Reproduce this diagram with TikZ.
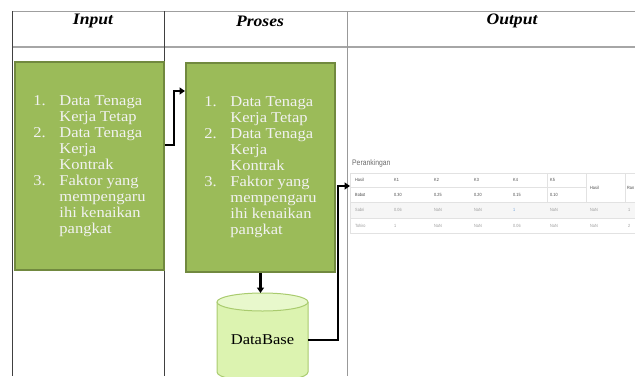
\documentclass[tikz,border=0pt]{standalone}
\usepackage{fontspec}
\setmainfont{Liberation Serif}
\newfontfamily\stretchserif[FakeStretch=1.1]{Liberation Serif}
\newfontfamily\narrowsans[FakeStretch=0.85]{Liberation Sans}
\usetikzlibrary{arrows.meta}
\definecolor{boxgreen}{HTML}{9BBB59}
\definecolor{boxedge}{HTML}{71893F}
\definecolor{dbbody}{HTML}{DCF3B0}
\definecolor{dbtopc}{HTML}{E8F8CC}
\definecolor{dbedge}{HTML}{A9CB6E}
\definecolor{gridc}{HTML}{404040}
\definecolor{headrulec}{HTML}{A6A6A6}
\definecolor{tlinec}{HTML}{E2E2E2}
\definecolor{rowshade}{HTML}{F6F6F6}
\definecolor{celldark}{HTML}{444444}
\definecolor{celllight}{HTML}{9A9A9A}
\definecolor{cellblue}{HTML}{6FA0D8}
\newcommand\steplist{\begin{tabular}{@{}p{26pt}@{}l@{}}1.&Data Tenaga\\&Kerja Tetap\\2.&Data Tenaga\\&Kerja\\&Kontrak\\3.&Faktor yang\\&mempengaru\\&ihi kenaikan\\&pangkat\end{tabular}}
\tikzset{
  gridline/.style={draw=gridc,line width=0.8pt},
  headrule/.style={draw=headrulec,line width=1.6pt},
  head/.style={font=\stretchserif\fontsize{16}{18}\selectfont\bfseries\itshape,inner sep=0pt},
  greenbox/.style={draw=boxedge,fill=boxgreen,line width=2pt,text=white!95!black,
    font=\stretchserif\fontsize{15}{16}\selectfont,inner sep=0pt},
  conn/.style={line width=2.4pt,black,-{Triangle[length=5.5pt,width=7pt]}},
  tline/.style={draw=tlinec,line width=0.6pt},
  cell/.style={font=\narrowsans\fontsize{4.5}{5}\selectfont,anchor=west,inner sep=0pt,text=celldark},
  lcell/.style={cell,text=celllight},
}
\begin{document}
\begin{tikzpicture}[x=1pt,y=-1pt]
\useasboundingbox (0,0) rectangle (635,376);
\clip (0,0) rectangle (635,376);
% outer table
\draw[draw=gray!75,line width=1pt] (12.5,11) -- (635,11);
\draw[headrule] (12.5,47) -- (635,47);
\draw[gridline] (12.5,11) -- (12.5,376);
\draw[gridline] (164.5,11) -- (164.5,376);
\draw[draw=gray!80,line width=1pt] (347,11) -- (347,376);
\node[head] (hin) at (93,21) {Input};
\node[head] (hpro) at (260,21) {Proses};
\node[head] (hout) at (512,21) {Output};
% green boxes
\node[greenbox,minimum width=149pt,minimum height=208pt] (box1) at (89.5,166) {\steplist};
\node[greenbox,minimum width=149pt,minimum height=209pt] (box2) at (260.5,167.5) {\steplist};
% database cylinder
\path[fill=dbbody] (217,302) -- (217,372) .. controls (217,384) and (308,384) .. (308,372) -- (308,302) -- cycle;
\draw[draw=dbedge,line width=1pt] (217,302) -- (217,372) .. controls (217,384) and (308,384) .. (308,372) -- (308,302);
\draw[draw=dbedge,fill=dbtopc,line width=1pt] (262.5,302) ellipse [x radius=45.5pt,y radius=9pt];
\node[minimum width=91pt,minimum height=60pt,inner sep=0pt,font=\stretchserif\fontsize{15}{16}\selectfont] (db) at (262.5,340) {DataBase};
\coordinate (dbtop) at (262.5,293);
% output screenshot table
\node[font=\narrowsans\fontsize{8}{9}\selectfont,text=celldark!80,anchor=west,inner sep=0pt] (rank) at (352,163.5) {Perankingan};
\fill[rowshade] (350,202) rectangle (635,218);
\draw[tline] (350,173) -- (635,173);
\draw[tline] (350,187) -- (586,187);
\draw[tline] (350,202) -- (635,202);
\draw[tline] (350,218) -- (635,218);
\draw[tline] (350,233) -- (635,233);
\draw[tline] (350,173) -- (350,233);
\draw[tline] (547,173) -- (547,202);
\draw[tline] (586,173) -- (586,202);
\draw[tline] (625,173) -- (625,202);
\foreach \t/\x [count=\i] in {Hasil/355,K1/394,K2/434,K3/474,K4/513,K5/550}
  \node[cell] (ra\i) at (\x,180) {\t};
\foreach \t/\x [count=\i] in {Bobot/355,0.30/394,0.25/434,0.20/474,0.15/513,0.10/550}
  \node[cell] (rb\i) at (\x,194.5) {\t};
\node[cell] (rhasil) at (590,187.5) {Hasil};
\node[cell] (rrank) at (627,187.5) {Ran};
\foreach \t/\x [count=\i] in {Sabri/355,0.06/394,NaN/434,NaN/474,NaN/550,NaN/590,1/628}
  \node[lcell] (rc\i) at (\x,210) {\t};
\node[cell,text=cellblue] (rc8) at (513,210) {1};
\foreach \t/\x [count=\i] in {Tohiro/355,1/394,NaN/434,NaN/474,0.06/513,NaN/550,NaN/590,2/628}
  \node[lcell] (rd\i) at (\x,225.5) {\t};
\coordinate (outin) at (350,186);
% connectors
\draw[conn] ([yshift=21pt]box1.east) -- ++(9,0) |- ([yshift=76.5pt]box2.west);
\draw[conn] (box2.south) -- (box2.south |- dbtop);
\draw[conn] (db.east) -- ++(30,0) |- (outin);
\end{tikzpicture}
\end{document}
